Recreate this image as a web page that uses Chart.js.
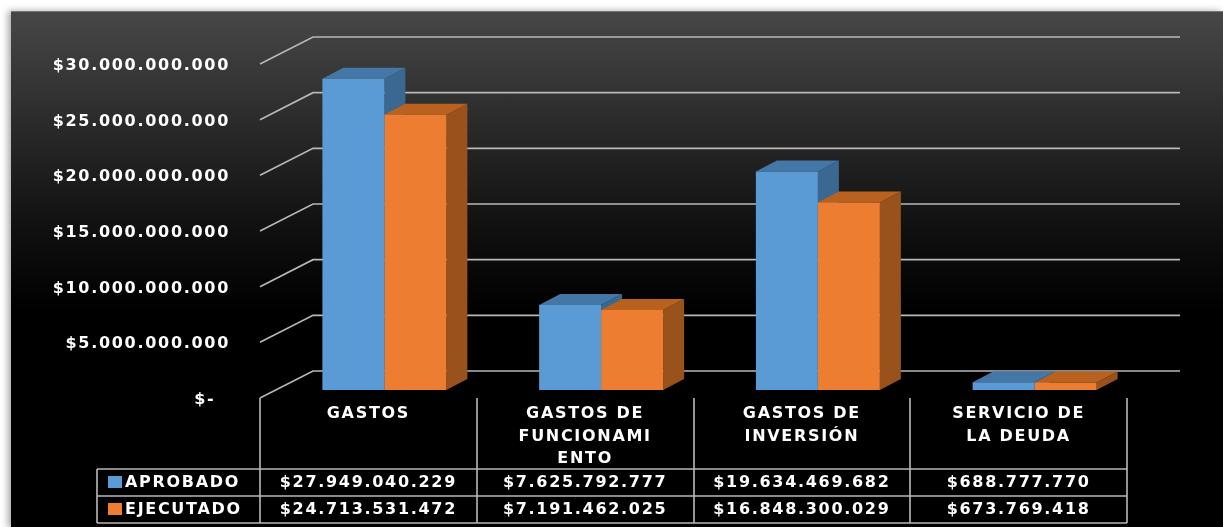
<!DOCTYPE html>
<html>
<head>
<meta charset="utf-8">
<script src="https://cdn.jsdelivr.net/npm/chart.js@4.4.0/dist/chart.umd.min.js"></script>
<style>
  html, body { margin: 0; padding: 0; background: #fff; }
  #wrap { position: relative; width: 1223px; height: 527px; overflow: hidden; }
  #panel {
    position: absolute; left: 11px; top: 11px; width: 1212px; height: 516px;
    background: linear-gradient(to bottom, #474747 0%, #2a2a2a 22%, #101010 42%, #000 58%, #000 100%);
    box-shadow: -3px 0 7px rgba(0,0,0,0.35);
    border-top: 1px solid #777;
  }
  #chart { position: absolute; left: 0; top: 0; }
</style>
</head>
<body>
<div id="wrap">
  <div id="panel"></div>
  <canvas id="chart" width="1223" height="527"></canvas>
</div>
<script>
var categories = [
  ["GASTOS"],
  ["GASTOS DE", "FUNCIONAMI", "ENTO"],
  ["GASTOS DE", "INVERSIÓN"],
  ["SERVICIO DE", "LA DEUDA"]
];
var aprobado = [27949040229, 7625792777, 19634469682, 688777770];
var ejecutado = [24713531472, 7191462025, 16848300029, 673769418];
var seriesNames = ["APROBADO", "EJECUTADO"];
var yTicks = [0, 5000000000, 10000000000, 15000000000, 20000000000, 25000000000, 30000000000];

var fronts = ["#5b9bd5", "#ed7d31"];
var tops = ["#4577a6", "#b9621f"];
var sides = ["#3b6890", "#9a521d"];

// offsets of the front edge and back wall relative to the bar plane
var FRONT = { x: -16, y: 8 };
var BACK = { x: 37, y: -19 };
var DEPTH = { x: 21, y: -11 };

function money(v) {
  if (v === 0) return "$-  ";
  return "$" + String(v).replace(/\B(?=(\d{3})+(?!\d))/g, ".");
}

var FONT = "bold 16px 'DejaVu Sans'";
var TEXT = "#ffffff";
var LINE = "#b8b8b8";

function txt(ctx, s, x, y, align) {
  ctx.save();
  ctx.font = FONT;
  ctx.fillStyle = TEXT;
  ctx.letterSpacing = "1.7px";
  ctx.textAlign = align;
  ctx.textBaseline = "middle";
  ctx.fillText(s, x, y);
  ctx.restore();
}

var chart3d = {
  id: "chart3d",
  beforeDatasetsDraw: function (chart) {
    var ctx = chart.ctx;
    var ys = chart.scales.y;
    var left = chart.chartArea.left, right = chart.chartArea.right;

    // back wall gridlines with the diagonal side-wall edges
    ctx.save();
    ctx.strokeStyle = LINE;
    ctx.lineWidth = 1.6;
    yTicks.forEach(function (t) {
      var y = ys.getPixelForValue(t);
      ctx.beginPath();
      ctx.moveTo(left + FRONT.x, y + FRONT.y);
      ctx.lineTo(left + BACK.x, y + BACK.y);
      ctx.lineTo(right + BACK.x, y + BACK.y);
      ctx.stroke();
    });
    ctx.restore();

    // top and side faces of the bars
    chart.data.datasets.forEach(function (ds, di) {
      var meta = chart.getDatasetMeta(di);
      meta.data.forEach(function (bar) {
        var l = bar.x - bar.width / 2, r = bar.x + bar.width / 2;
        var t = bar.y, b = bar.base;
        ctx.fillStyle = sides[di];
        ctx.beginPath();
        ctx.moveTo(r, t);
        ctx.lineTo(r + DEPTH.x, t + DEPTH.y);
        ctx.lineTo(r + DEPTH.x, b + DEPTH.y);
        ctx.lineTo(r, b);
        ctx.closePath();
        ctx.fill();
        ctx.fillStyle = tops[di];
        ctx.beginPath();
        ctx.moveTo(l, t);
        ctx.lineTo(l + DEPTH.x, t + DEPTH.y);
        ctx.lineTo(r + DEPTH.x, t + DEPTH.y);
        ctx.lineTo(r, t);
        ctx.closePath();
        ctx.fill();
      });
    });
  },
  afterDraw: function (chart) {
    var ctx = chart.ctx;
    var xs = chart.scales.x, ys = chart.scales.y;
    var left = chart.chartArea.left;

    // value axis labels along the front edge
    yTicks.forEach(function (t) {
      txt(ctx, money(t), 230, ys.getPixelForValue(t) + FRONT.y + 2, "right");
    });

    // data table under the plot
    var catW = (chart.chartArea.right - left) / categories.length;
    var x0 = left + FRONT.x;
    var top = ys.getPixelForValue(0) + FRONT.y;
    var r1 = 469, r2 = 496, r3 = 523, legL = 97;
    var xEnd = x0 + catW * categories.length;

    ctx.save();
    ctx.strokeStyle = LINE;
    ctx.lineWidth = 1.6;
    ctx.beginPath();
    for (var i = 0; i <= categories.length; i++) {
      var vx = Math.round(x0 + catW * i);
      ctx.moveTo(vx, top);
      ctx.lineTo(vx, r3);
    }
    [r1, r2, r3].forEach(function (ry) {
      ctx.moveTo(legL, ry);
      ctx.lineTo(xEnd, ry);
    });
    ctx.moveTo(legL, r1);
    ctx.lineTo(legL, r3);
    ctx.stroke();
    ctx.restore();

    categories.forEach(function (lines, i) {
      var cx = xs.getPixelForValue(i) + FRONT.x;
      lines.forEach(function (s, k) {
        txt(ctx, s, cx, 414 + k * 22.5, "center");
      });
      txt(ctx, money(aprobado[i]), cx, (r1 + r2) / 2, "center");
      txt(ctx, money(ejecutado[i]), cx, (r2 + r3) / 2, "center");
    });

    [r1, r2].forEach(function (ry, k) {
      ctx.fillStyle = fronts[k];
      ctx.fillRect(108, ry + 7, 14, 12);
      txt(ctx, seriesNames[k], 125, ry + 13.5, "left");
    });
  }
};

new Chart(document.getElementById("chart"), {
  type: "bar",
  data: {
    labels: categories,
    datasets: [
      { label: seriesNames[0], data: aprobado, backgroundColor: fronts[0], borderWidth: 0 },
      { label: seriesNames[1], data: ejecutado, backgroundColor: fronts[1], borderWidth: 0 }
    ]
  },
  options: {
    responsive: false,
    animation: false,
    layout: { padding: { left: 276, right: 80, top: 56, bottom: 137 } },
    plugins: { legend: { display: false }, tooltip: { enabled: false } },
    datasets: { bar: { categoryPercentage: 0.572, barPercentage: 1.0 } },
    scales: {
      x: { display: false },
      y: { display: false, min: 0, max: 30000000000 }
    }
  },
  plugins: [chart3d]
});
</script>
</body>
</html>
